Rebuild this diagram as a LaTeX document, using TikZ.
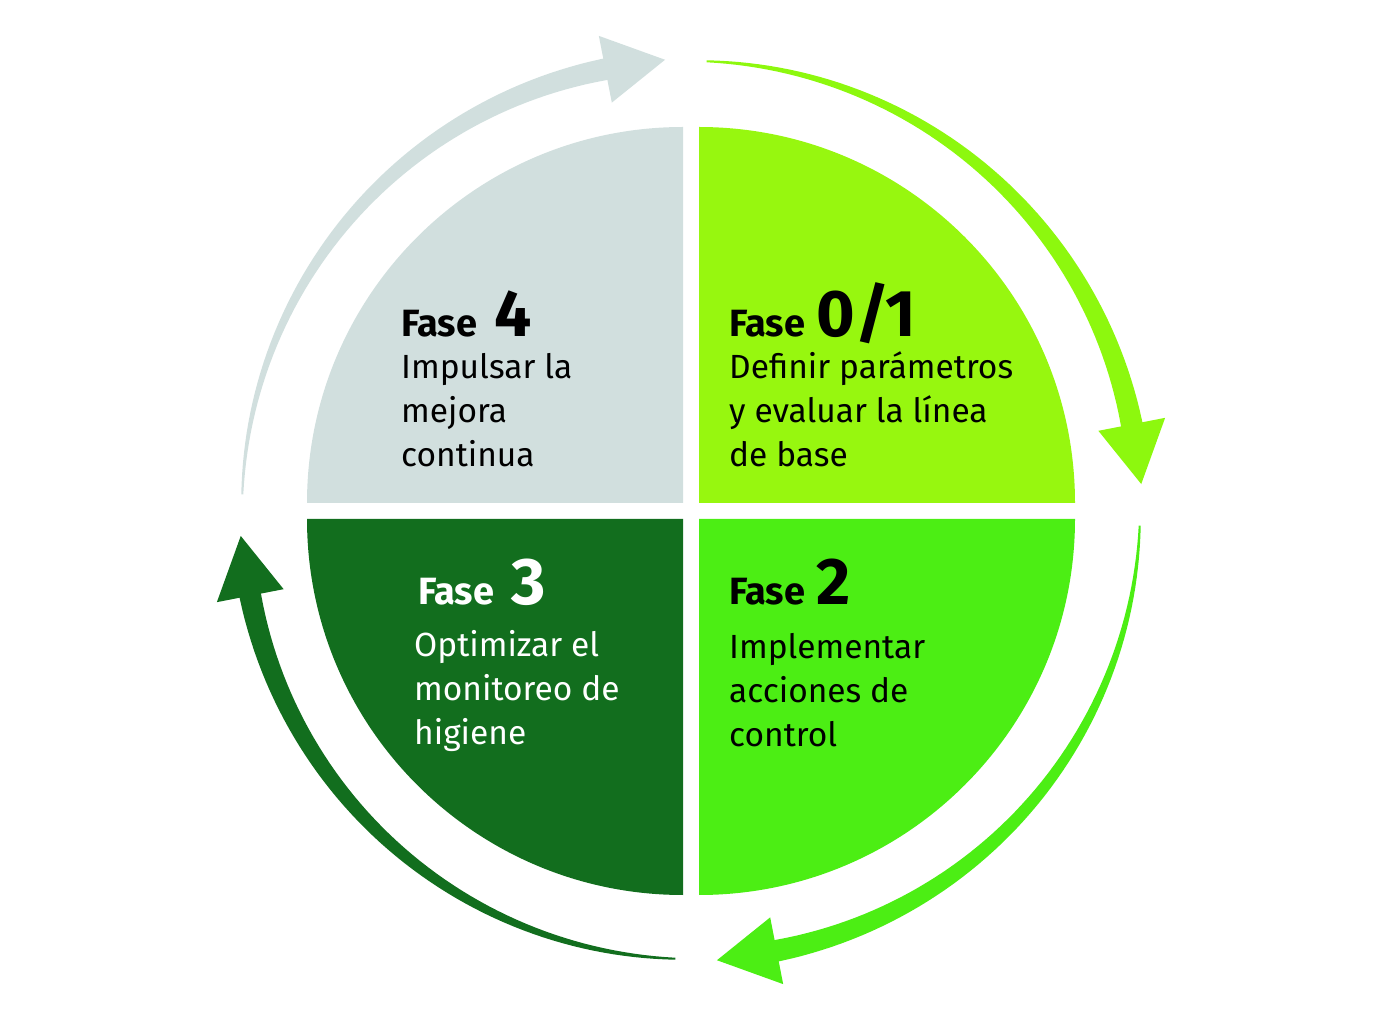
\documentclass[tikz,border=0pt]{standalone}
\usepackage{fontspec}
\setmainfont{Fira Sans}
\definecolor{cgray}{HTML}{D1DFDE}
\definecolor{clime}{HTML}{97F70F}
\definecolor{cgreen}{HTML}{4CEE14}
\definecolor{cdark}{HTML}{126E1E}
\begin{document}
\begin{tikzpicture}[x=1pt,y=1pt,
  lbl/.style={anchor=base west,font=\fontsize{33.5}{44}\selectfont,align=left,inner sep=0pt},
  fase/.style={anchor=base west,font=\fontsize{38}{40}\selectfont\bfseries,inner sep=0pt}]
\useasboundingbox (0,0) rectangle (1382,1021);
\coordinate (c) at (691,511);
% quadrants
\fill[cgray] (683,518) -- (307,518) arc (180:90:376) -- cycle;
\fill[clime] (699,518) -- (1075,518) arc (0:90:376) -- cycle;
\fill[cgreen] (699,502) -- (1075,502) arc (0:-90:376) -- cycle;
\fill[cdark] (683,502) -- (307,502) arc (180:270:376) -- cycle;
% arrows
\newcommand{\tarr}[2]{%
\begin{scope}[shift={(c)},rotate=#2]
\fill[#1] plot[domain=178:100,samples=60] ({cos(\x)*(449+(1+10*(178-\x)/78))},{sin(\x)*(449+(1+10*(178-\x)/78))})
  -- plot[domain=100:178,samples=60] ({cos(\x)*(449-(1+10*(178-\x)/78))},{sin(\x)*(449-(1+10*(178-\x)/78))}) -- cycle;
\fill[#1] ({cos(101)*415},{sin(101)*415}) -- ({cos(101)*483},{sin(101)*483}) -- ({cos(93.3)*451},{sin(93.3)*451}) -- cycle;
\end{scope}}
\tarr{cgray}{0}
\tarr{clime!93!green}{-90}
\tarr{cgreen}{-180}
\tarr{cdark}{-270}
% texts
\node[fase] (f4) at (401,684) {Fase\hspace{0.45em}{\fontsize{66}{60}\selectfont 4}};
\node[lbl] (t4) at (401,554) {Impulsar la\\mejora\\continua};
\node[fase] (f1) at (729,684) {Fase\hspace{0.3em}{\fontsize{66}{60}\selectfont 0/1}};
\node[lbl] (t1) at (729,554) {Definir parámetros\\y evaluar la línea\\de base};
\node[fase,text=white] (f3) at (418,416) {Fase\hspace{0.45em}{\fontsize{66}{60}\selectfont 3}};
\node[lbl,text=white] (t3) at (414,276) {Optimizar el\\monitoreo de\\higiene};
\node[fase] (f2) at (729,416) {Fase\hspace{0.3em}{\fontsize{66}{60}\selectfont 2}};
\node[lbl] (t2) at (729,274) {Implementar\\acciones de\\control};
\end{tikzpicture}
\end{document}
